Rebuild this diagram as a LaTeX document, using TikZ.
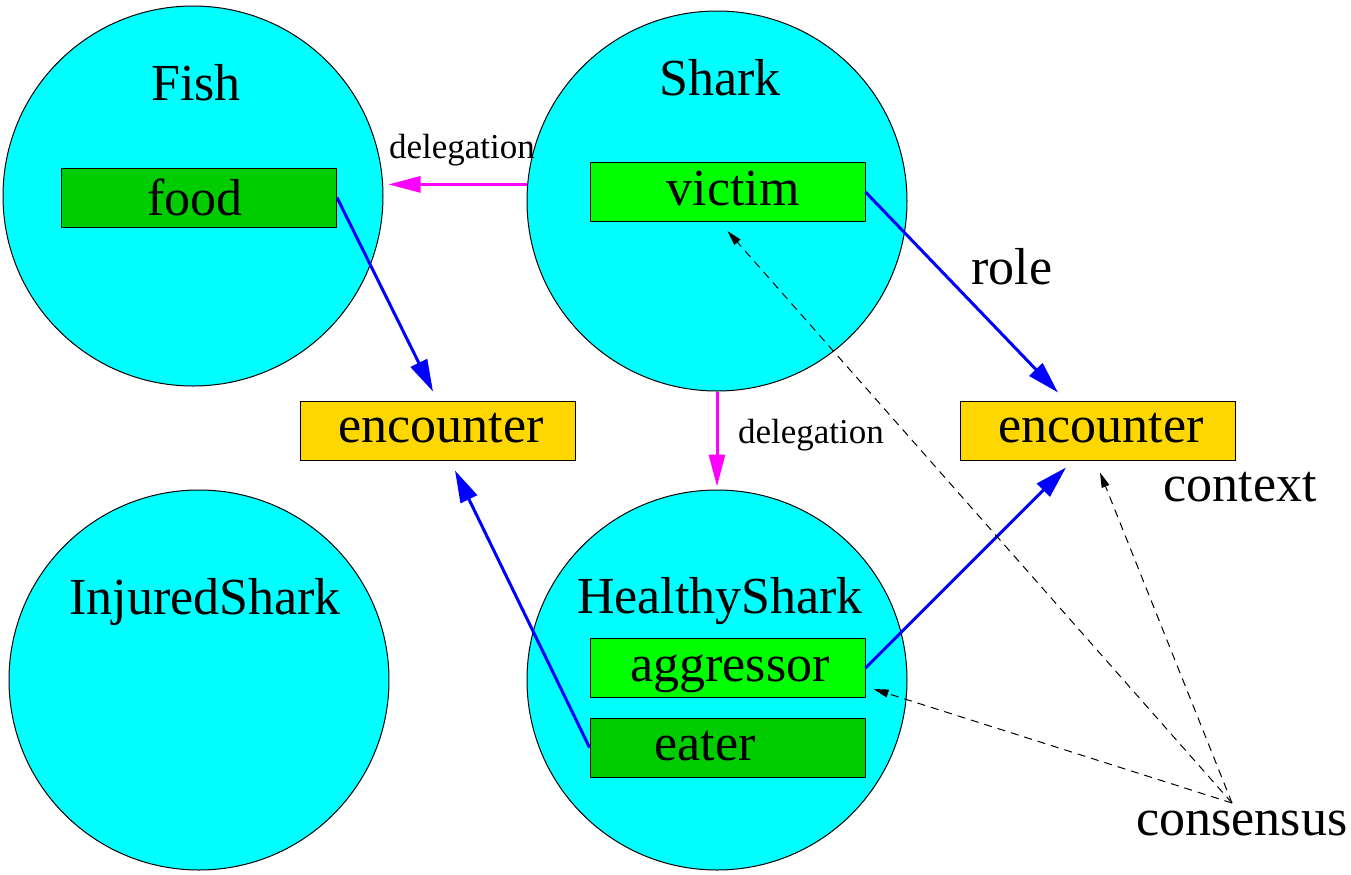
\documentclass[tikz,border=0pt]{standalone}
\usepackage{fontspec}
\setmainfont{Liberation Serif}
\usetikzlibrary{arrows.meta,calc}
\definecolor{cyanc}{HTML}{00FFFF}
\definecolor{lgreen}{HTML}{00FF00}
\definecolor{dgreen}{HTML}{00CC00}
\definecolor{goldc}{HTML}{FFD700}
\definecolor{magc}{HTML}{FF00FF}
\definecolor{bluec}{HTML}{0000FF}
\tikzset{
  classc/.style={circle,draw=black,line width=0.5pt,fill=cyanc,minimum size=190pt,inner sep=0pt},
  rolebox/.style={rectangle,draw=black,line width=0.5pt,minimum width=137.5pt,minimum height=29.5pt,inner sep=0pt},
  bigtxt/.style={font=\fontsize{26}{30}\selectfont,inner sep=0pt,anchor=base},
  smalltxt/.style={font=\fontsize{17.5}{20}\selectfont,inner sep=0pt,anchor=base},
  deleg/.style={draw=magc,line width=1.5pt,-{Triangle[length=16pt,width=8pt]}},
  rolearrow/.style={draw=bluec,line width=1.5pt,-{Triangle[length=16pt,width=9pt]}},
  consarrow/.style={draw=black,line width=0.5pt,dash pattern=on 4pt off 3pt,-{Triangle[length=7.5pt,width=4pt]}}
}
\begin{document}
\begin{tikzpicture}[x=0.5pt,y=-0.5pt]
\useasboundingbox (0,0) rectangle (1351,874);
% circles
\node[classc] (fish) at (193,196) {};
\node[classc] (shark) at (717,201) {};
\node[classc] (healthy) at (717,680) {};
\node[classc] (injured) at (199,680) {};
% role boxes
\node[rolebox,fill=dgreen] (food) at (199,197.5) {};
\node[rolebox,fill=lgreen] (victim) at (727.5,192) {};
\node[rolebox,fill=goldc] (encL) at (437.5,430.5) {};
\node[rolebox,fill=goldc] (encR) at (1098,430.5) {};
\node[rolebox,fill=lgreen] (aggr) at (727.5,668) {};
\node[rolebox,fill=dgreen] (eater) at (727.5,747.5) {};
% texts
\node[bigtxt] (tfish) at (196,100) {Fish};
\node[bigtxt] (tshark) at (720,95) {Shark};
\node[bigtxt] (thealthy) at (720,613) {HealthyShark};
\node[bigtxt] (tinjured) at (205,614) {InjuredShark};
\node[bigtxt] (tfood) at (195,215) {food};
\node[bigtxt] (tvictim) at (733,205) {victim};
\node[bigtxt] (tencL) at (441,442) {encounter};
\node[bigtxt] (tencR) at (1101,442) {encounter};
\node[bigtxt] (taggr) at (730,681) {aggressor};
\node[bigtxt] (teater) at (705,760) {eater};
\node[bigtxt] (trole) at (1012,284) {role};
\node[bigtxt] (tcontext) at (1240,501) {context};
\node[bigtxt] (tcons) at (1242,835) {consensus};
\node[smalltxt] (tdel1) at (462,158) {delegation};
\node[smalltxt] (tdel2) at (811,443) {delegation};
% delegation arrows
\draw[deleg] (shark.175) -- ($(shark.175 -| fish.east)+(5,0)$);
\draw[deleg] (shark.south) -- ($(healthy.north)+(0,-3)$);
% role arrows
\draw[rolearrow] (food.east) -- ($(encL.north)+(-4.5,-9)$);
\draw[rolearrow] (victim.east) -- ($(encR.north)+(-40,-8)$);
\draw[rolearrow] (eater.west) -- ($(encL.south)+(17.5,10)$);
\draw[rolearrow] (aggr.east) -- ($(encR.south)+(-32,7)$);
% consensus arrows
\coordinate (cons) at (1232,803);
\draw[consarrow] (cons) -- ($(victim.south)+(0,9)$);
\draw[consarrow] (cons) -- ($(aggr.south east)+(8,-9)$);
\draw[consarrow] (cons) -- ($(encR.south)+(2,12)$);
\end{tikzpicture}
\end{document}
